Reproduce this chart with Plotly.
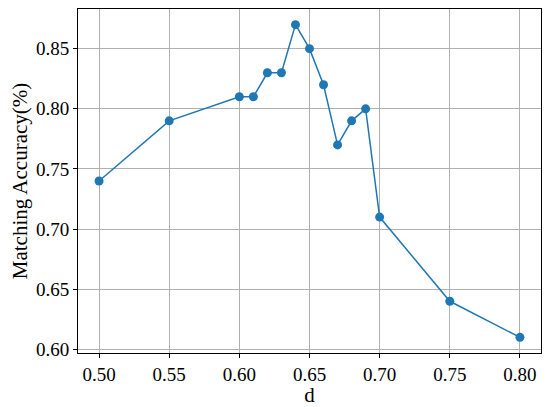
import plotly.graph_objects as go

d_values = [0.50, 0.55, 0.60, 0.61, 0.62, 0.63, 0.64, 0.65, 0.66, 0.67, 0.68, 0.69, 0.70, 0.75, 0.80]
accuracy = [0.74, 0.79, 0.81, 0.81, 0.83, 0.83, 0.87, 0.85, 0.82, 0.77, 0.79, 0.80, 0.71, 0.64, 0.61]
x_ticks = [0.50, 0.55, 0.60, 0.65, 0.70, 0.75, 0.80]
y_ticks = [0.60, 0.65, 0.70, 0.75, 0.80, 0.85]

fig = go.Figure(go.Scatter(
    x=d_values, y=accuracy, mode="lines+markers",
    line=dict(color="#1f77b4", width=1.5),
    marker=dict(color="#1f77b4", size=9),
))

font = "Liberation Serif"
axis_common = dict(
    showline=True, linecolor="black", linewidth=1, mirror=True,
    ticks="outside", ticklen=4, tickcolor="black",
    showgrid=True, gridcolor="#b0b0b0", gridwidth=1, zeroline=False,
    tickfont=dict(family=font, size=19, color="black"),
    automargin=False,
)
# page body has an 8px margin, so the figure is shifted by 8px
fig.update_layout(
    width=542, height=399,
    font=dict(family=font, color="black"),
    margin=dict(l=70, r=9, t=1, b=54),
    paper_bgcolor="white", plot_bgcolor="white",
    showlegend=False,
    xaxis=dict(range=[0.485, 0.815], tickvals=x_ticks,
               ticktext=[f"{v:.2f}" for v in x_ticks],
               title=dict(text="d", font=dict(family=font, size=21, color="black"), standoff=2),
               **axis_common),
    yaxis=dict(range=[0.597, 0.883], tickvals=y_ticks,
               ticktext=[f"{v:.2f}" for v in y_ticks],
               title=dict(text="Matching Accuracy(%)", font=dict(family=font, size=21, color="black"), standoff=6),
               **axis_common),
)
fig.write_html("out.html")
